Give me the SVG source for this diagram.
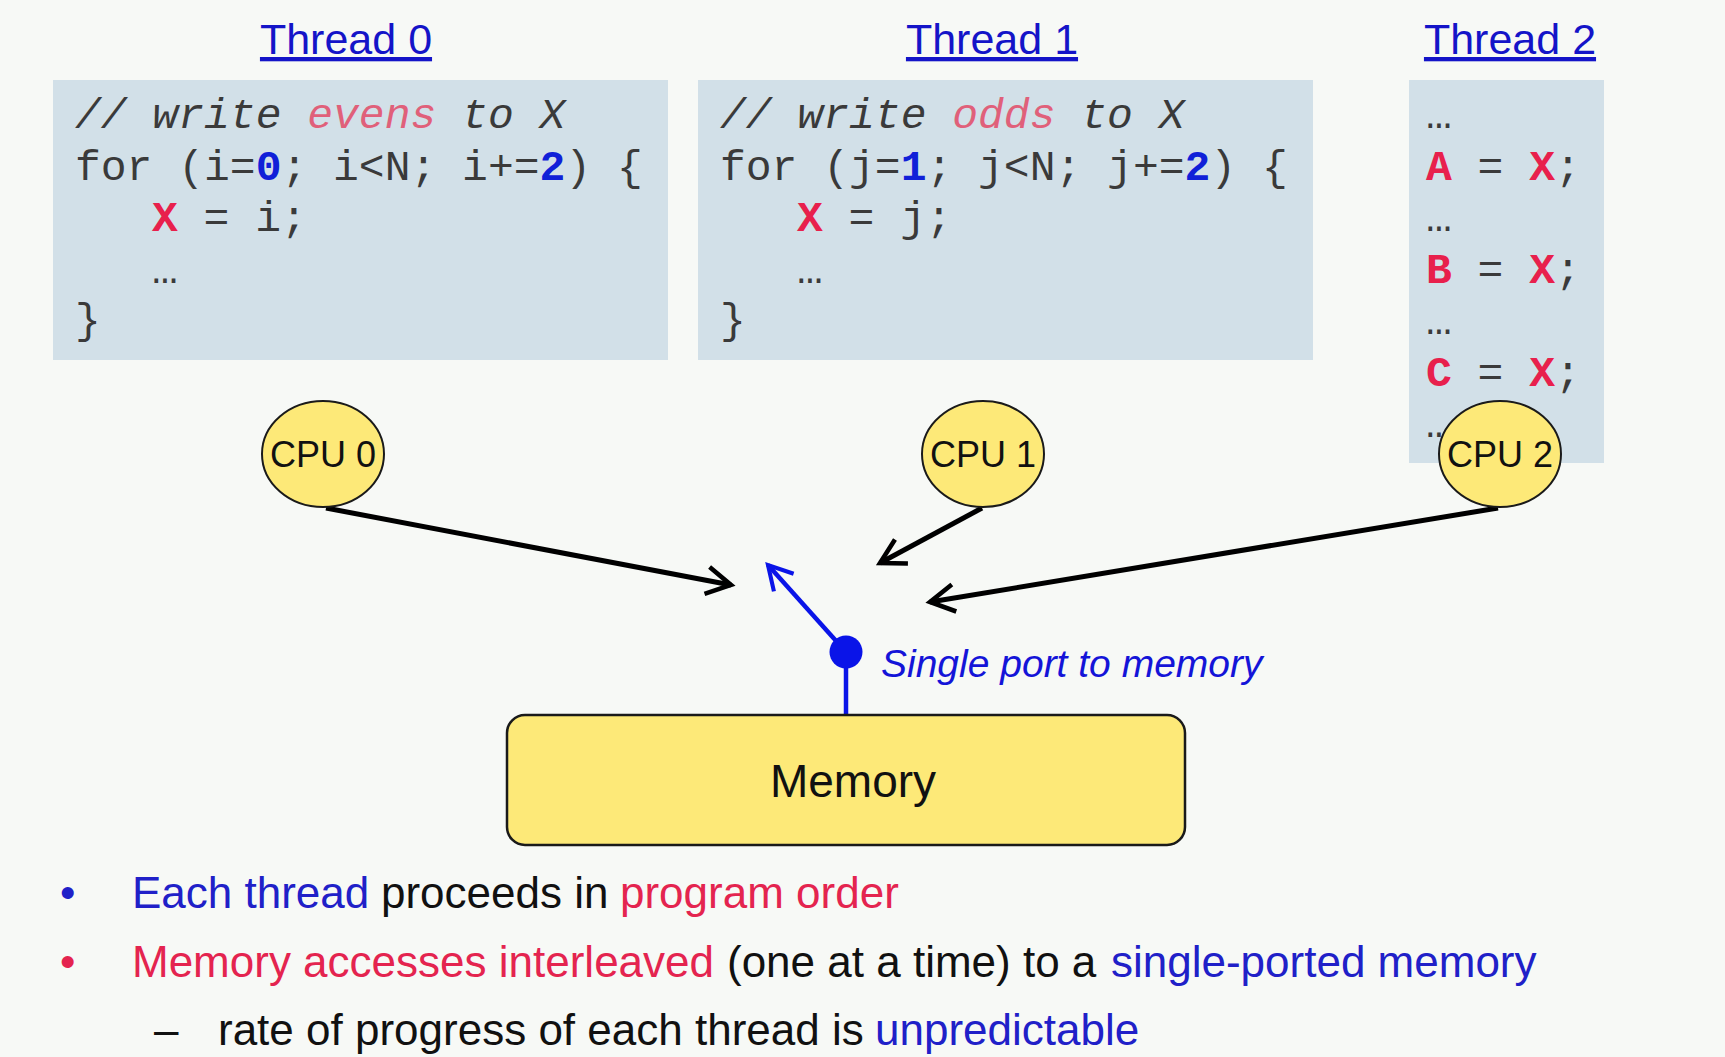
<svg xmlns="http://www.w3.org/2000/svg" width="1725" height="1057" viewBox="0 0 1725 1057">
<style>
.bg{fill:#f7f9f6}
.box{fill:#d2e0e8}
.code{font-family:"Liberation Mono","Courier New",monospace;font-size:43px;fill:#3a3a3a}
.cm{font-style:italic}
.hl{fill:#e0607a}
.num{fill:#1020d8;font-weight:bold}
.var{fill:#e8204c;font-weight:bold}
.title{font-family:"Liberation Sans",Arial,sans-serif;font-size:43px;fill:#1414c8;text-decoration:underline;text-anchor:middle}
.cpu{fill:#fde978;stroke:#1a1a1a;stroke-width:2}
.lbl{font-family:"Liberation Sans",Arial,sans-serif;fill:#111;text-anchor:middle}
.edge{stroke:#000;stroke-width:5;fill:none;marker-end:url(#chev)}
.bedge{stroke:#0a14e8;stroke-width:4.5;fill:none}
.note{font-family:"Liberation Sans",Arial,sans-serif;font-size:44px;fill:#111}
.b{fill:#2020c8}
.r{fill:#e4244f}
</style>
<defs>
<marker id="chev" viewBox="0 0 10 10" refX="8.5" refY="5" markerWidth="6.5" markerHeight="6.5" markerUnits="strokeWidth" orient="auto">
<path d="M1,0.8 L8.5,5 L1,9.2" fill="none" stroke="#000" stroke-width="1.4"/>
</marker>
<marker id="bchev" viewBox="0 0 10 10" refX="8.5" refY="5" markerWidth="7" markerHeight="7" markerUnits="strokeWidth" orient="auto">
<path d="M1,0.8 L8.5,5 L1,9.2" fill="none" stroke="#0a14e8" stroke-width="1.3"/>
</marker>
</defs>
<rect class="bg" x="0" y="0" width="1725" height="1057"/>

<g id="thread0">
<text class="title" x="346" y="54">Thread 0</text>
<rect class="box" x="53" y="80" width="615" height="280"/>
<text class="code" x="75" y="128"><tspan class="cm">// write </tspan><tspan class="cm hl">evens</tspan><tspan class="cm"> to X</tspan></text>
<text class="code" x="75" y="180">for (i=<tspan class="num">0</tspan>; i&lt;N; i+=<tspan class="num">2</tspan>) {</text>
<text class="code" x="152" y="231"><tspan class="var">X</tspan> = i;</text>
<text class="code" x="152" y="283">…</text>
<text class="code" x="75" y="333">}</text>
</g>

<g id="thread1">
<text class="title" x="992" y="54">Thread 1</text>
<rect class="box" x="698" y="80" width="615" height="280"/>
<text class="code" x="720" y="128"><tspan class="cm">// write </tspan><tspan class="cm hl">odds</tspan><tspan class="cm"> to X</tspan></text>
<text class="code" x="720" y="180">for (j=<tspan class="num">1</tspan>; j&lt;N; j+=<tspan class="num">2</tspan>) {</text>
<text class="code" x="797" y="231"><tspan class="var">X</tspan> = j;</text>
<text class="code" x="797" y="283">…</text>
<text class="code" x="720" y="333">}</text>
</g>

<g id="thread2">
<text class="title" x="1510" y="54">Thread 2</text>
<rect class="box" x="1409" y="80" width="195" height="383"/>
<text class="code" x="1426" y="128">…</text>
<text class="code" x="1426" y="180"><tspan class="var">A</tspan> = <tspan class="var">X</tspan>;</text>
<text class="code" x="1426" y="231">…</text>
<text class="code" x="1426" y="283"><tspan class="var">B</tspan> = <tspan class="var">X</tspan>;</text>
<text class="code" x="1426" y="334">…</text>
<text class="code" x="1426" y="386"><tspan class="var">C</tspan> = <tspan class="var">X</tspan>;</text>
<text class="code" x="1426" y="437">…</text>
</g>

<g id="connectors">
<line class="edge" x1="326" y1="508" x2="731" y2="585"/>
<line class="edge" x1="982" y1="508" x2="880" y2="563"/>
<line class="edge" x1="1498" y1="508" x2="930" y2="602"/>
<line class="bedge" x1="846" y1="652" x2="768" y2="565" marker-end="url(#bchev)"/>
<line class="bedge" x1="846" y1="652" x2="846" y2="716"/>
</g>

<g id="cpu0">
<ellipse class="cpu" cx="323" cy="454" rx="61" ry="53"/>
<text class="lbl" x="323" y="467" font-size="36">CPU 0</text>
</g>
<g id="cpu1">
<ellipse class="cpu" cx="983" cy="454" rx="61" ry="53"/>
<text class="lbl" x="983" y="467" font-size="36">CPU 1</text>
</g>
<g id="cpu2">
<ellipse class="cpu" cx="1500" cy="454" rx="61" ry="53"/>
<text class="lbl" x="1500" y="467" font-size="36">CPU 2</text>
</g>

<g id="port">
<circle cx="846" cy="652" r="16.5" fill="#0a14e8"/>
<text x="881" y="677" font-family="Liberation Sans, Arial, sans-serif" font-size="39" font-style="italic" fill="#1414d8">Single port to memory</text>
</g>

<g id="memory">
<rect x="507" y="715" width="678" height="130" rx="18" fill="#fde978" stroke="#1a1a1a" stroke-width="2.5"/>
<text class="lbl" x="853" y="797" font-size="46">Memory</text>
</g>

<g id="notes">
<text class="note b" x="60" y="908">•</text>
<text class="note" y="908"><tspan class="b" x="132">Each thread</tspan><tspan x="381">proceeds in</tspan><tspan class="r" x="620">program order</tspan></text>
<text class="note r" x="60" y="977">•</text>
<text class="note" y="977"><tspan class="r" x="132">Memory accesses interleaved</tspan><tspan x="727">(one at a time) to a</tspan><tspan class="b" x="1111">single-ported memory</tspan></text>
<text class="note" x="154" y="1045">–</text>
<text class="note" y="1045"><tspan x="218">rate of progress of each thread is</tspan><tspan class="b" x="875">unpredictable</tspan></text>
</g>
</svg>
